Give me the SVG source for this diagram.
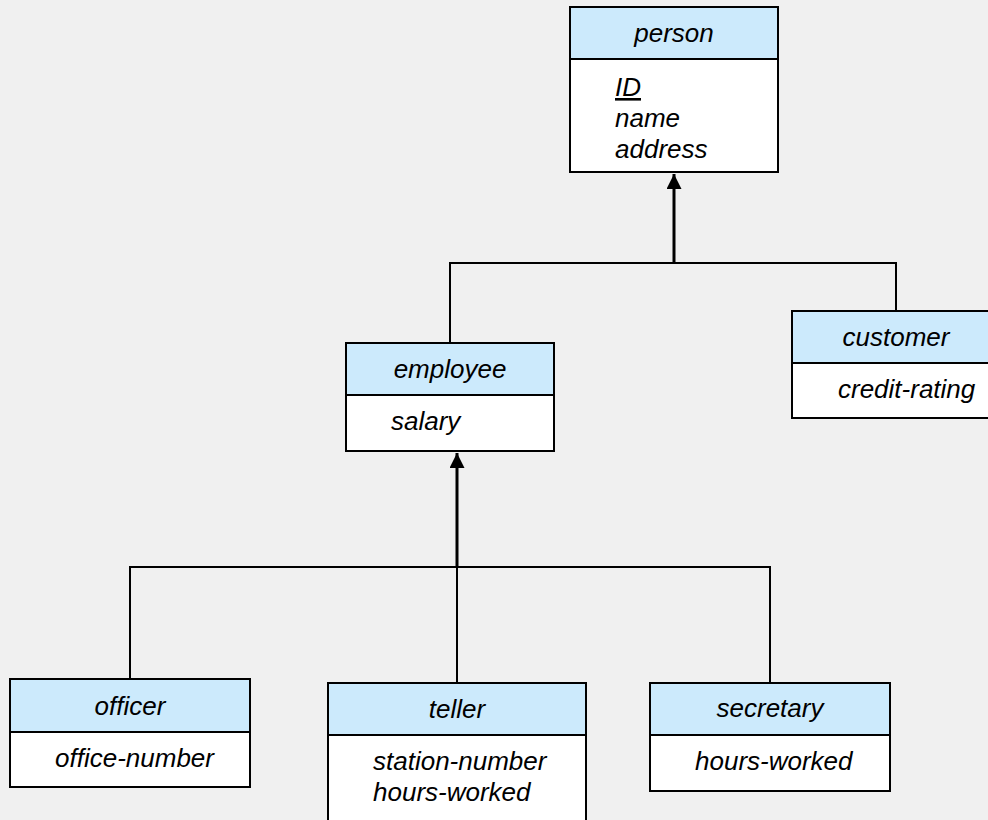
<svg xmlns="http://www.w3.org/2000/svg" width="988" height="820" viewBox="0 0 988 820">
  <style>
    .head { fill: #cceafc; stroke: #000; stroke-width: 2; }
    .body { fill: #ffffff; stroke: #000; stroke-width: 2; }
    text { font-family: "Liberation Sans", Arial, sans-serif; font-style: italic; font-size: 26px; fill: #000; }
    .title { text-anchor: middle; }
    .wire { fill: none; stroke: #000; stroke-width: 2; }
    .isa { fill: none; stroke: #000; stroke-width: 3; }
  </style>
  <defs>
    <marker id="tri" viewBox="0 0 10 10" refX="10" refY="5" markerWidth="5" markerHeight="5" markerUnits="strokeWidth" orient="auto">
      <path d="M0,0 L10,5 L0,10 Z" fill="#000"/>
    </marker>
  </defs>
  <rect width="988" height="820" fill="#f0f0f0"/>

  <!-- generalization connectors -->
  <g id="connectors">
    <polyline class="wire" points="450,343 450,263 896,263 896,311"/>
    <line class="isa" x1="674" y1="263" x2="674" y2="174" marker-end="url(#tri)"/>
    <polyline class="wire" points="130,679 130,567 770,567 770,683"/>
    <line class="wire" x1="457" y1="567" x2="457" y2="683"/>
    <line class="isa" x1="457" y1="567" x2="457" y2="453" marker-end="url(#tri)"/>
  </g>

  <g id="person">
    <rect class="body" x="570" y="7" width="208" height="165"/>
    <rect class="head" x="570" y="7" width="208" height="52"/>
    <text class="title" x="674" y="42">person</text>
    <text x="615" y="96" text-decoration="underline">ID</text>
    <text x="615" y="127">name</text>
    <text x="615" y="158">address</text>
  </g>

  <g id="employee">
    <rect class="body" x="346" y="343" width="208" height="108"/>
    <rect class="head" x="346" y="343" width="208" height="52"/>
    <text class="title" x="450" y="378">employee</text>
    <text x="391" y="430">salary</text>
  </g>

  <g id="customer">
    <rect class="body" x="792" y="311" width="210" height="107"/>
    <rect class="head" x="792" y="311" width="210" height="52"/>
    <text class="title" x="896" y="346">customer</text>
    <text x="838" y="398">credit-rating</text>
  </g>

  <g id="officer">
    <rect class="body" x="10" y="679" width="240" height="108"/>
    <rect class="head" x="10" y="679" width="240" height="53"/>
    <text class="title" x="130" y="715">officer</text>
    <text x="55" y="767">office-number</text>
  </g>

  <g id="teller">
    <rect class="body" x="328" y="683" width="258" height="145"/>
    <rect class="head" x="328" y="683" width="258" height="52"/>
    <text class="title" x="457" y="718">teller</text>
    <text x="373" y="770">station-number</text>
    <text x="373" y="801">hours-worked</text>
  </g>

  <g id="secretary">
    <rect class="body" x="650" y="683" width="240" height="108"/>
    <rect class="head" x="650" y="683" width="240" height="52"/>
    <text class="title" x="770" y="717">secretary</text>
    <text x="695" y="770">hours-worked</text>
  </g>
</svg>
